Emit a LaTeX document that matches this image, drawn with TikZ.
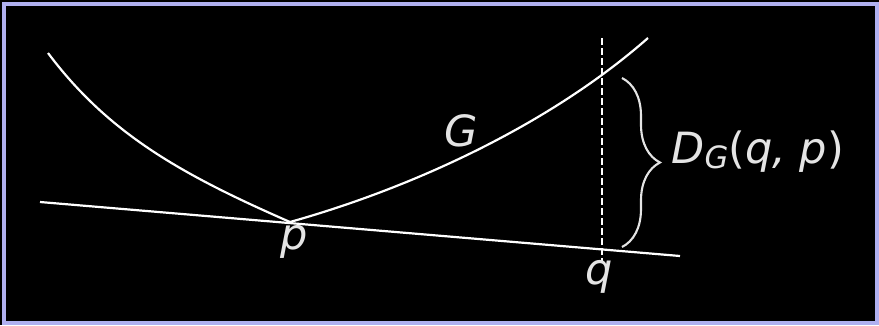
\documentclass[tikz,border=0pt]{standalone}
\usepackage{fontspec}
\setmainfont{DejaVu Sans}
\usetikzlibrary{decorations.pathreplacing}

\definecolor{framecol}{RGB}{176,176,240}
\definecolor{labelcol}{RGB}{228,228,228}

\begin{document}
\begin{tikzpicture}[
    x=0.02cm, y=-0.02cm,
    curve/.style={
        draw=white,
        line width=1.25pt
    },
    guide/.style={
        curve,
        dash pattern=on 3.8pt off 1.9pt
    },
    lbl/.style={
        text=labelcol,
        font=\fontsize{24.5}{28}\selectfont\itshape,
        inner sep=0pt,
        anchor=base
    },
    bracemark/.style={
        draw=labelcol,
        line width=1.2pt,
        decorate,
        decoration={brace, amplitude=0.76cm}
    }
]

% Background and frame
\useasboundingbox (0,0) rectangle (879,325);
\fill[black] (0,0) rectangle (879,325);
\draw[framecol, line width=2pt] (4,4) rectangle (877,323);

% Points
\coordinate (a) at (48,53);
\coordinate (p) at (290,222);
\coordinate (b) at (648,38);
\coordinate (t1) at (40,202);
\coordinate (t2) at (680,256);
\coordinate (qtop) at (602,38);
\coordinate (qbot) at (602,263);
\coordinate (btop) at (622,78);
\coordinate (bbot) at (622,247);

% Curve G, tangent and guide
\draw[curve] (a) .. controls (108,133) and (180,174) .. (p)
    .. controls (410,188.4) and (548,126) .. (b);
\draw[curve] (t1) -- (t2);
\draw[guide] (qtop) -- (qbot);
\draw[bracemark] (btop) -- (bbot);

% Labels
\node[lbl] (plbl) at (294,249.5) {p};
\node[lbl] (qlbl) at (599,284) {q};
\node[lbl] (glbl) at (461,146) {G};
\node[lbl, anchor=base west] (dlbl) at (671,163.3)
    {D\raisebox{-3.2pt}{\fontsize{17.5}{20}\selectfont G}\upshape(\itshape q, p\upshape)};

\end{tikzpicture}
\end{document}
